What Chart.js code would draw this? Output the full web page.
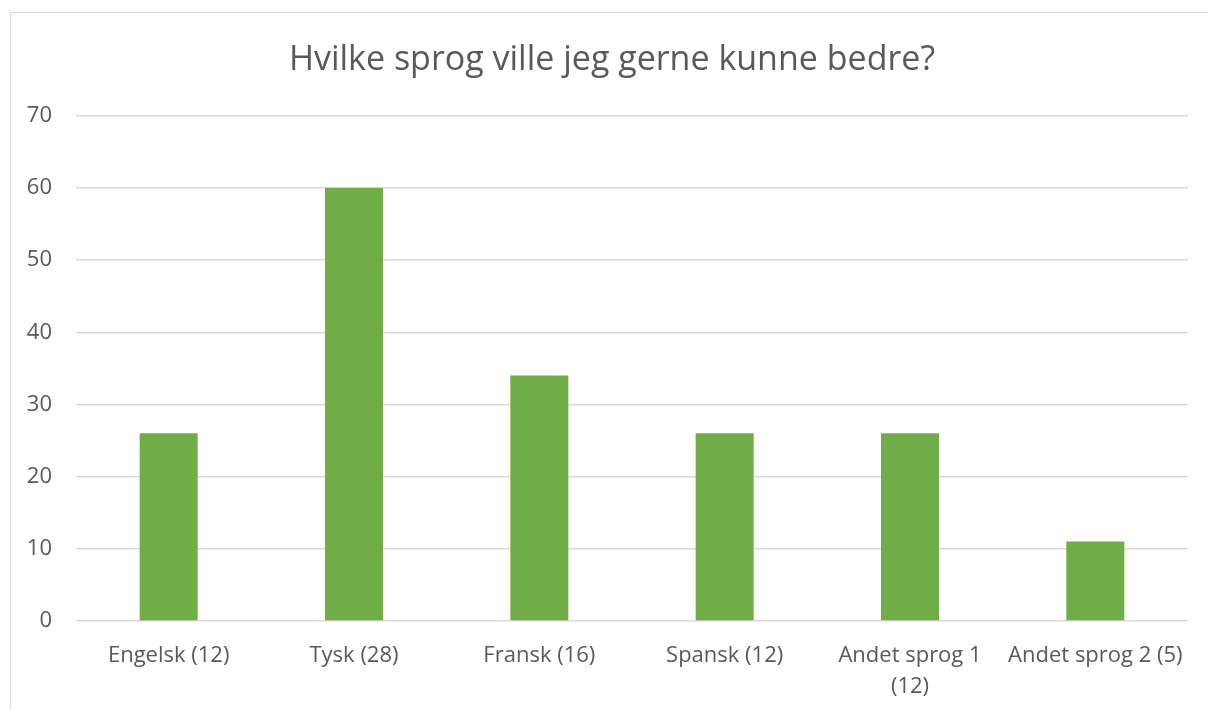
<!DOCTYPE html>
<html lang="da">
  <head>
    <meta charset="UTF-8" />
    <title>Hvilke sprog ville jeg gerne kunne bedre?</title>
    <script src="https://cdn.jsdelivr.net/npm/chart.js"></script>
    <style>
      body { margin: 0; background: #fff; overflow: hidden; }
      #frame { position: absolute; left: 10px; top: 12px; width: 1400px; height: 900px; border: 1px solid #d9d9d9; }
      #wrap { position: absolute; left: 0; top: 0; width: 1208px; height: 710px; }
    </style>
  </head>
  <body>
    <div id="frame"></div>
    <div id="wrap"><canvas id="sprogChart"></canvas></div>

    <script>
      var categories = [
        "Engelsk (12)",
        "Tysk (28)",
        "Fransk (16)",
        "Spansk (12)",
        ["Andet sprog 1", "(12)"],
        "Andet sprog 2 (5)",
      ];
      var values = [26, 60, 34, 26, 26, 11];
      var yTicks = [0, 10, 20, 30, 40, 50, 60, 70];

      var textColor = "#595959";
      var font = "'Open Sans', sans-serif";

      // the title sits a bit right of the canvas centre in the original
      var shiftTitle = {
        id: "shiftTitle",
        afterLayout: function (chart) {
          if (chart.titleBlock) chart.titleBlock.left += 20;
        },
      };

      var ctx = document.getElementById("sprogChart").getContext("2d");
      var chart = new Chart(ctx, {
        type: "bar",
        data: {
          labels: categories,
          datasets: [
            {
              label: "Antal",
              data: values,
              backgroundColor: "#70AD47",
              barPercentage: 0.313,
              categoryPercentage: 1,
            },
          ],
        },
        options: {
          responsive: true,
          maintainAspectRatio: false,
          animation: false,
          layout: { padding: { left: 16, right: 20, top: 0, bottom: 0 } },
          plugins: {
            legend: { display: false },
            tooltip: { enabled: false },
            title: {
              display: true,
              text: "Hvilke sprog ville jeg gerne kunne bedre?",
              color: textColor,
              font: { family: font, size: 34, weight: "normal", lineHeight: 1.2 },
              padding: { top: 40, bottom: 35 },
            },
          },
          scales: {
            x: {
              grid: { display: false },
              border: { display: false },
              ticks: {
                color: textColor,
                font: { family: font, size: 22, lineHeight: 1.38 },
                maxRotation: 0,
                autoSkip: false,
                padding: 12,
              },
              afterFit: function (scale) {
                scale.height = 89;
              },
            },
            y: {
              min: 0,
              max: 70,
              afterBuildTicks: function (scale) {
                scale.ticks = yTicks.map(function (v) { return { value: v }; });
              },
              grid: { color: "#d9d9d9", lineWidth: 1.5, drawTicks: false },
              border: { display: false },
              ticks: {
                color: textColor,
                font: { family: font, size: 22 },
                padding: 24,
              },
              afterFit: function (scale) {
                scale.width = 60;
              },
            },
          },
        },
        plugins: [shiftTitle],
      });
    </script>
  </body>
</html>
